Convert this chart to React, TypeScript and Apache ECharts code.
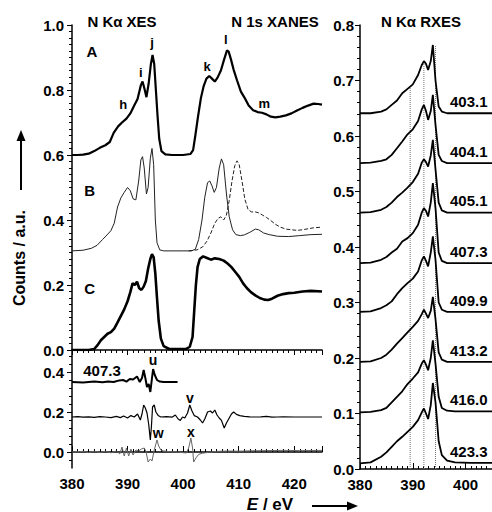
import React, { useEffect, useRef } from "react";
import * as echarts from "echarts";

const FONT = "'Liberation Sans', Arial, Helvetica, sans-serif";

// ---------- Top-left panel (N Kα XES + N 1s XANES) ----------
const curveA: [number, number][] = [
  [380, 0.6], [381, 0.6], [382, 0.601], [383, 0.604], [384, 0.612], [385, 0.622], [386, 0.63],
  [386.8, 0.64], [387.5, 0.668], [388.3, 0.688], [389, 0.7], [389.8, 0.712], [390.5, 0.728],
  [391.2, 0.752], [391.8, 0.772], [392.4, 0.815], [392.7, 0.826], [393.1, 0.8], [393.4, 0.778],
  [393.8, 0.82], [394.2, 0.88], [394.5, 0.908], [394.8, 0.88], [395.1, 0.8], [395.4, 0.72],
  [395.7, 0.65], [396.1, 0.612], [396.8, 0.602], [398, 0.6], [400, 0.6], [401.3, 0.603],
  [401.8, 0.615], [402.2, 0.66], [402.7, 0.72], [403.2, 0.775], [403.7, 0.812], [404.2, 0.835],
  [404.7, 0.843], [405.2, 0.835], [405.7, 0.826], [406.2, 0.838], [406.8, 0.86], [407.4, 0.895],
  [407.9, 0.922], [408.2, 0.918], [408.6, 0.895], [409.1, 0.862], [409.7, 0.83], [410.4, 0.795],
  [411.1, 0.775], [411.8, 0.752], [412.6, 0.738], [413.4, 0.732], [414.2, 0.73], [415, 0.725],
  [415.8, 0.718], [416.6, 0.716], [417.5, 0.718], [418.5, 0.722], [419.5, 0.728], [420.5, 0.737],
  [421.5, 0.745], [422.5, 0.752], [423.5, 0.758], [424.3, 0.757], [425, 0.755],
];
const curveB: [number, number][] = [
  [380, 0.305], [382, 0.307], [383.5, 0.313], [384.5, 0.322], [385.5, 0.34], [386.3, 0.354],
  [387, 0.367], [387.6, 0.39], [388.2, 0.44], [388.8, 0.468], [389.4, 0.485], [390, 0.5],
  [390.5, 0.49], [391, 0.465], [391.5, 0.462], [392, 0.52], [392.4, 0.585], [392.7, 0.595],
  [393, 0.56], [393.4, 0.48], [393.7, 0.5], [394.1, 0.59], [394.4, 0.62], [394.7, 0.57],
  [395, 0.4], [395.3, 0.33], [395.8, 0.308], [396.5, 0.305], [400, 0.305], [401.5, 0.305],
  [402.2, 0.31], [402.8, 0.34], [403.4, 0.4], [403.9, 0.47], [404.4, 0.515], [404.8, 0.52],
  [405.2, 0.505], [405.6, 0.485], [406, 0.5], [406.5, 0.56], [406.9, 0.588], [407.3, 0.57],
  [407.8, 0.48], [408.3, 0.41], [408.9, 0.37], [409.5, 0.355], [410.3, 0.352], [411, 0.354],
  [412, 0.362], [413, 0.372], [413.6, 0.37], [414.5, 0.36], [415.5, 0.355], [417, 0.35],
  [419, 0.349], [421, 0.352], [423, 0.355], [425, 0.356],
];
const curveBDashed: [number, number][] = [
  [401, 0.305], [402.5, 0.308], [403.5, 0.317], [404.3, 0.335], [405, 0.36], [405.7, 0.39],
  [406.3, 0.405], [406.8, 0.41], [407.3, 0.4], [407.8, 0.415], [408.3, 0.46], [408.8, 0.52],
  [409.3, 0.567], [409.7, 0.582], [410.1, 0.57], [410.6, 0.52], [411.1, 0.465], [411.7, 0.432],
  [412.3, 0.425], [413, 0.425], [413.6, 0.422], [414.3, 0.415], [415, 0.408], [415.8, 0.398],
  [416.6, 0.387], [417.5, 0.378], [418.5, 0.372], [419.5, 0.37], [420.5, 0.368], [421.5, 0.37],
  [422.5, 0.373], [423.5, 0.376], [425, 0.378],
];
const curveC: [number, number][] = [
  [380, 0], [383, 0], [384, 0.003], [384.6, 0.015], [385.2, 0.03], [385.8, 0.04], [386.4, 0.05],
  [387, 0.055], [387.6, 0.066], [388.2, 0.085], [388.8, 0.105], [389.4, 0.125], [390, 0.15],
  [390.5, 0.178], [390.9, 0.205], [391.3, 0.2], [391.7, 0.21], [392.1, 0.19], [392.5, 0.185],
  [392.9, 0.195], [393.3, 0.212], [393.7, 0.25], [394.1, 0.28], [394.4, 0.295], [394.7, 0.285],
  [395, 0.235], [395.3, 0.16], [395.6, 0.09], [396, 0.035], [396.5, 0.012], [397.5, 0.003],
  [400.5, 0.003], [401.2, 0.01], [401.7, 0.04], [402, 0.12], [402.3, 0.2], [402.6, 0.255],
  [403, 0.28], [403.6, 0.288], [404.3, 0.283], [405, 0.278], [405.7, 0.282], [406.5, 0.28],
  [407.3, 0.275], [408, 0.266], [408.7, 0.255], [409.4, 0.24], [410.1, 0.225], [410.8, 0.205],
  [411.5, 0.19], [412.2, 0.178], [413, 0.168], [413.8, 0.16], [414.6, 0.155], [415.3, 0.154],
  [416, 0.158], [417, 0.167], [418, 0.172], [419, 0.175], [420, 0.176], [421.5, 0.18],
  [423, 0.182], [425, 0.18],
];
const topLetters = [
  { name: "A", value: [383.6, 0.917], size: 15 },
  { name: "h", value: [389.2, 0.754], size: 13 },
  { name: "i", value: [392.4, 0.855], size: 13 },
  { name: "j", value: [394.4, 0.945], size: 13 },
  { name: "k", value: [404.3, 0.871], size: 13 },
  { name: "l", value: [407.7, 0.954], size: 13 },
  { name: "m", value: [414.6, 0.757], size: 13 },
  { name: "B", value: [383.2, 0.49], size: 15 },
  { name: "C", value: [383.2, 0.19], size: 15 },
];

// ---------- Bottom-left panel (difference spectra) ----------
const diff4073: [number, number][] = [
  [380, 0.35], [382, 0.348], [384, 0.352], [385.5, 0.349], [386.5, 0.353], [387.5, 0.35],
  [388.5, 0.358], [389.2, 0.36], [389.8, 0.352], [390.4, 0.365], [391, 0.362], [391.7, 0.378],
  [392.2, 0.35], [392.6, 0.37], [392.9, 0.41], [393.2, 0.37], [393.5, 0.325], [393.8, 0.34],
  [394.1, 0.3], [394.4, 0.37], [394.6, 0.415], [394.9, 0.385], [395.3, 0.36], [395.8, 0.352],
  [396.5, 0.35], [397.5, 0.35], [399, 0.35],
];
const diffMid: [number, number][] = [
  [380, 0.175], [381, 0.177], [382, 0.174], [383, 0.176], [384, 0.173], [385, 0.177],
  [386, 0.175], [387, 0.172], [388, 0.178], [388.7, 0.172], [389.3, 0.18], [390, 0.17],
  [390.6, 0.182], [391.2, 0.175], [391.8, 0.19], [392.3, 0.16], [392.6, 0.19], [392.9, 0.235],
  [393.2, 0.22], [393.5, 0.195], [393.8, 0.14], [394.1, 0.06], [394.3, 0.13], [394.5, 0.225],
  [394.8, 0.235], [395.1, 0.2], [395.5, 0.183], [396, 0.175], [397, 0.177], [398, 0.174],
  [398.6, 0.185], [399.1, 0.165], [399.5, 0.158], [399.9, 0.175], [400.3, 0.17], [400.8, 0.195],
  [401.2, 0.235], [401.6, 0.205], [402, 0.182], [402.6, 0.175], [403.1, 0.16], [403.5, 0.145],
  [403.9, 0.165], [404.4, 0.2], [404.9, 0.205], [405.3, 0.195], [405.7, 0.21], [406.1, 0.185],
  [406.5, 0.17], [406.9, 0.158], [407.4, 0.12], [407.8, 0.145], [408.2, 0.165], [408.7, 0.19],
  [409.1, 0.2], [409.6, 0.188], [410.2, 0.182], [411, 0.178], [412, 0.176], [413, 0.175],
  [414, 0.176], [415, 0.178], [416, 0.174], [417, 0.175], [418, 0.176], [420, 0.175],
  [422, 0.175], [425, 0.175],
];
const diffGray: [number, number][] = [
  [380, 0], [382, 0.003], [383, -0.003], [384, 0.004], [385, -0.002], [386, 0.003],
  [387, -0.004], [388, 0.005], [388.6, -0.01], [389, 0.025], [389.4, -0.02], [389.8, 0.02],
  [390.2, -0.02], [390.6, 0.015], [391, -0.015], [391.5, 0.01], [392, 0.005], [392.5, 0.015],
  [393, 0.02], [393.3, 0.005], [393.7, -0.05], [394.1, -0.035], [394.4, -0.045], [394.8, 0.01],
  [395.3, 0.06], [395.6, 0.03], [396, 0.01], [396.5, 0.005], [397.5, 0.002], [399, 0],
  [400.6, -0.005], [401, 0.02], [401.4, 0.07], [401.7, 0.02], [401.9, -0.05], [402.3, -0.03],
  [402.8, -0.012], [403.5, -0.006], [404.5, -0.002], [406, 0.003], [408, 0.005], [410, 0.004],
  [412, 0.006], [415, 0.007], [418, 0.008], [421, 0.007], [425, 0.008],
];
const bottomLetters = [
  { name: "407.3", value: [385.4, 0.41], size: 15 },
  { name: "u", value: [394.6, 0.46], size: 14 },
  { name: "v", value: [401.2, 0.27], size: 14 },
  { name: "w", value: [395.5, 0.095], size: 14 },
  { name: "x", value: [401.4, 0.1], size: 14 },
];
const bottomMajorTicks = [0, 0.2, 0.4];
const bottomMinorTicks = [-0.04, 0.04, 0.08, 0.12, 0.16, 0.24, 0.28, 0.32, 0.36, 0.44, 0.48];

// ---------- Right panel (N Kα RXES) ----------
const rxesEnergy = [380, 382, 384, 385, 386, 387, 388, 389, 390, 391, 391.7, 392.1, 392.5, 392.9,
  393.4, 393.8, 394.3, 394.9, 395.5, 396.5, 398, 401, 405];
const rxes4031 = [0.641, 0.641, 0.644, 0.648, 0.656, 0.664, 0.677, 0.685, 0.693, 0.71, 0.728, 0.735,
  0.73, 0.719, 0.735, 0.764, 0.7, 0.653, 0.644, 0.641, 0.641, 0.641, 0.641];
const rxes4041 = [0.551, 0.552, 0.555, 0.558, 0.566, 0.578, 0.59, 0.603, 0.612, 0.627, 0.648, 0.656,
  0.645, 0.629, 0.645, 0.674, 0.62, 0.566, 0.555, 0.551, 0.551, 0.551, 0.551];
const rxes4051 = [0.462, 0.463, 0.467, 0.472, 0.48, 0.49, 0.498, 0.507, 0.517, 0.532, 0.552, 0.558,
  0.553, 0.545, 0.565, 0.593, 0.54, 0.48, 0.466, 0.462, 0.462, 0.462, 0.462];
const rxes4073 = [0.371, 0.372, 0.377, 0.382, 0.39, 0.397, 0.41, 0.416, 0.425, 0.44, 0.462, 0.47,
  0.465, 0.455, 0.48, 0.515, 0.47, 0.39, 0.375, 0.371, 0.371, 0.371, 0.371];
const rxes4099 = [0.283, 0.284, 0.29, 0.295, 0.302, 0.315, 0.326, 0.335, 0.343, 0.356, 0.376, 0.383,
  0.375, 0.365, 0.39, 0.419, 0.377, 0.3, 0.287, 0.283, 0.283, 0.283, 0.283];
const rxes4132 = [0.193, 0.194, 0.2, 0.206, 0.215, 0.226, 0.236, 0.246, 0.256, 0.267, 0.279, 0.287,
  0.28, 0.272, 0.285, 0.31, 0.27, 0.21, 0.197, 0.193, 0.193, 0.193, 0.193];
const rxes4160 = [0.102, 0.103, 0.106, 0.11, 0.12, 0.13, 0.14, 0.153, 0.163, 0.174, 0.19, 0.196,
  0.188, 0.178, 0.2, 0.232, 0.19, 0.13, 0.11, 0.105, 0.104, 0.104, 0.104];
const rxes4233 = [0.01, 0.012, 0.022, 0.03, 0.04, 0.05, 0.058, 0.067, 0.076, 0.088, 0.102, 0.109,
  0.1, 0.09, 0.115, 0.155, 0.12, 0.05, 0.025, 0.015, 0.012, 0.011, 0.011];
const rxesSeries = [rxes4031, rxes4041, rxes4051, rxes4073, rxes4099, rxes4132, rxes4160, rxes4233];
const rxesLabels = ["403.1", "404.1", "405.1", "407.3", "409.9", "413.2", "416.0", "423.3"];
const rxesLabelX = 400.6;
const rxesLabelLift = 0.021;
const dottedX = [389.5, 392.1, 394.3];
const dottedTop = [0.689, 0.735, 0.764];

const black = "#000";

function lineSeries(data: any, xi: number, yi: number, width: number, color = black, type = "solid") {
  return {
    type: "line",
    xAxisIndex: xi,
    yAxisIndex: yi,
    data,
    symbol: "none",
    smooth: false,
    silent: true,
    lineStyle: { color, width, type },
    z: 3,
  };
}

function labelSeries(items: any[], xi: number, yi: number) {
  return {
    type: "scatter",
    xAxisIndex: xi,
    yAxisIndex: yi,
    symbolSize: 0,
    silent: true,
    z: 10,
    itemStyle: { color: black, opacity: 1 },
    data: items.map((it) => ({
      name: it.name,
      value: it.value,
      label: {
        show: true,
        position: "inside",
        formatter: "{b}",
        color: black,
        opacity: 1,
        textBorderWidth: 0,
        fontWeight: "bold",
        fontFamily: FONT,
        fontSize: it.size,
      },
    })),
  };
}

const tickLabel = { color: black, fontFamily: FONT, fontWeight: "bold", fontSize: 15 };
const axisLine = { show: true, lineStyle: { color: black, width: 1.5 } };

export default function App() {
  const ref = useRef<HTMLDivElement>(null);
  useEffect(() => {
    if (!ref.current) return;
    const chart = echarts.init(ref.current, undefined, { renderer: "svg" });

    const series: any[] = [
      lineSeries(curveB, 0, 0, 1, "#222"),
      lineSeries(curveBDashed, 0, 0, 1, "#222", "dashed"),
      lineSeries(curveA, 0, 0, 2.2),
      lineSeries(curveC, 0, 0, 2.6),
      labelSeries(topLetters, 0, 0),
      lineSeries(diffGray, 1, 1, 1, "#666"),
      lineSeries(diffMid, 1, 1, 1.2),
      lineSeries(diff4073, 1, 1, 2),
      labelSeries(bottomLetters, 1, 1),
    ];
    dottedX.forEach((x, i) => {
      series.push(lineSeries([[x, 0], [x, dottedTop[i]]], 2, 3, 1, "#777", "dotted"));
    });
    rxesSeries.forEach((vals) => {
      series.push(lineSeries(rxesEnergy.map((e, i) => [e, vals[i]]), 2, 3, 1.8));
    });
    series.push(
      labelSeries(
        rxesLabels.map((n, i) => ({ name: n, value: [rxesLabelX, rxesSeries[i][rxesSeries[i].length - 1] + rxesLabelLift], size: 15 })),
        2,
        3
      )
    );

    chart.setOption({
      animation: false,
      backgroundColor: "#fff",
      grid: [
        { left: 72, top: 25, width: 250, height: 325 },
        { left: 72, top: 350, width: 250, height: 118 },
        { left: 360, top: 25, width: 132, height: 444 },
      ],
      xAxis: [
        {
          gridIndex: 0, type: "value", min: 380, max: 425, interval: 10,
          axisLine, axisLabel: { show: false },
          axisTick: { show: true, inside: false, length: 5, lineStyle: { color: black } },
          minorTick: { show: true, splitNumber: 10, length: 3, lineStyle: { color: black } },
          splitLine: { show: false },
        },
        {
          gridIndex: 1, type: "value", min: 380, max: 425, interval: 10,
          axisLine, axisLabel: { ...tickLabel, margin: 8, showMaxLabel: false },
          axisTick: { show: true, inside: true, length: 6, lineStyle: { color: black } },
          minorTick: { show: true, splitNumber: 10, length: 3, lineStyle: { color: black } },
          splitLine: { show: false },
        },
        {
          gridIndex: 2, type: "value", min: 380, max: 405, interval: 10,
          axisLine, axisLabel: { ...tickLabel, margin: 8, showMaxLabel: false },
          axisTick: { show: true, inside: true, length: 6, lineStyle: { color: black } },
          minorTick: { show: true, splitNumber: 10, length: 3, lineStyle: { color: black } },
          splitLine: { show: false },
        },
      ],
      yAxis: [
        {
          gridIndex: 0, type: "value", min: 0, max: 1, interval: 0.2,
          axisLine, axisLabel: { ...tickLabel, margin: 8, formatter: (v: number) => v.toFixed(1) },
          axisTick: { show: true, length: 5, lineStyle: { color: black } },
          minorTick: { show: true, splitNumber: 10, length: 3, lineStyle: { color: black } },
          splitLine: { show: false },
        },
        {
          gridIndex: 1, type: "value", min: -0.08, max: 0.51, position: "left",
          axisLine,
          axisLabel: { ...tickLabel, margin: 8, customValues: bottomMajorTicks, formatter: (v: number) => v.toFixed(1) },
          axisTick: { show: true, length: 5, customValues: bottomMajorTicks, lineStyle: { color: black } },
          splitLine: { show: false },
        },
        {
          gridIndex: 1, type: "value", min: -0.08, max: 0.51, position: "left",
          axisLine: { show: false },
          axisLabel: { show: false, customValues: bottomMinorTicks },
          axisTick: { show: true, length: 3, customValues: bottomMinorTicks, lineStyle: { color: black } },
          splitLine: { show: false },
        },
        {
          gridIndex: 2, type: "value", min: 0, max: 0.8, interval: 0.1,
          axisLine, axisLabel: { ...tickLabel, margin: 6, formatter: (v: number) => v.toFixed(1) },
          axisTick: { show: true, length: 5, lineStyle: { color: black } },
          minorTick: { show: true, splitNumber: 5, length: 3, lineStyle: { color: black } },
          splitLine: { show: false },
        },
      ],
      graphic: [
        { type: "text", x: 122, y: 21, style: { text: "N Kα XES", font: `bold 15px ${FONT}`, fill: black, align: "center", verticalAlign: "middle" } },
        { type: "text", x: 275, y: 21, style: { text: "N 1s XANES", font: `bold 15px ${FONT}`, fill: black, align: "center", verticalAlign: "middle" } },
        { type: "text", x: 421, y: 21, style: { text: "N Kα RXES", font: `bold 15px ${FONT}`, fill: black, align: "center", verticalAlign: "middle" } },
        {
          type: "text", x: 19, y: 258, rotation: Math.PI / 2,
          style: { text: "Counts / a.u.", font: `bold 16px ${FONT}`, fill: black, align: "center", verticalAlign: "middle" },
        },
        { type: "line", shape: { x1: 21, y1: 190, x2: 21, y2: 138 }, style: { stroke: black, lineWidth: 2 } },
        { type: "polygon", shape: { points: [[16.5, 141], [25.5, 141], [21, 130]] }, style: { fill: black } },
        {
          type: "text", x: 270, y: 504,
          style: {
            text: "{e|E} / eV", align: "center", verticalAlign: "middle",
            font: `bold 17px ${FONT}`, fill: black,
            rich: { e: { fontStyle: "italic", fontWeight: "bold", fontSize: 17, fontFamily: FONT, fill: black } },
          },
        },
        { type: "line", shape: { x1: 312, y1: 506, x2: 350, y2: 506 }, style: { stroke: black, lineWidth: 2 } },
        { type: "polygon", shape: { points: [[347, 501.5], [347, 510.5], [358, 506]] }, style: { fill: black } },
      ],
      series,
    });
    return () => chart.dispose();
  }, []);
  return <div ref={ref} style={{ position: "absolute", left: 0, top: 0, width: 492, height: 512 }} />;
}
